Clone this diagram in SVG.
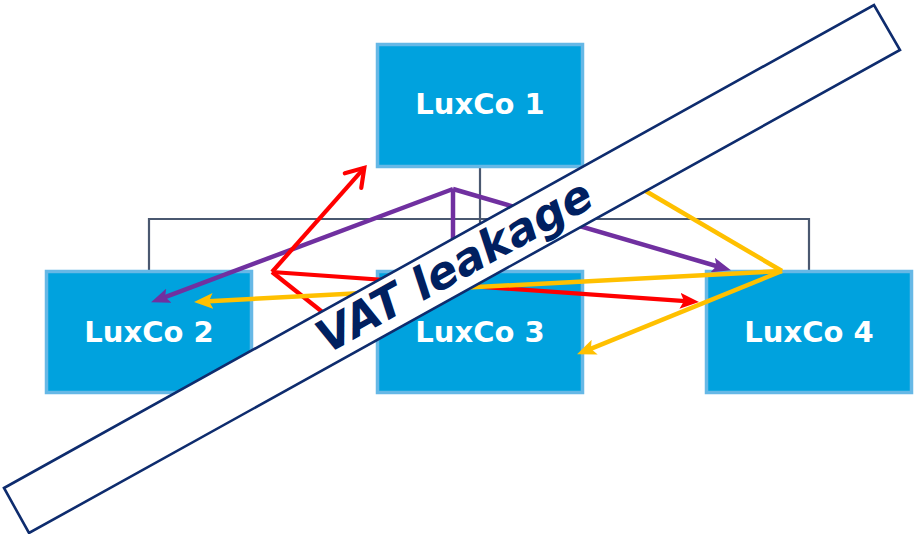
<svg xmlns="http://www.w3.org/2000/svg" width="916" height="534" viewBox="0 0 916 534">
  <style>
    .box { fill: #00A2DE; stroke: #66B8E6; stroke-width: 3.5; }
    .label { font-family: "DejaVu Sans", Verdana, sans-serif; font-weight: bold; font-size: 29px; fill: #FFFFFF; text-anchor: middle; }
    .org { fill: none; stroke: #4A5870; stroke-width: 2.2; }
    .purple { fill: none; stroke: #7030A0; stroke-width: 4.5; }
    .red { fill: none; stroke: #FF0000; stroke-width: 4.2; }
    .yellow { fill: none; stroke: #FFC000; stroke-width: 4.5; }
    .banner { fill: #FFFFFF; stroke: #0E2C6E; stroke-width: 2.6; stroke-linejoin: miter; }
    .banner-text { font-family: "DejaVu Sans", Verdana, sans-serif; font-weight: bold; font-style: italic; font-size: 45px; fill: #002060; text-anchor: middle; }
  </style>
  <defs>
    <marker id="headPurple" markerUnits="userSpaceOnUse" viewBox="0 0 19 15" markerWidth="19" markerHeight="15" refX="9" refY="7.5" orient="auto">
      <path d="M0,0 L19,7.5 L0,15 L4,7.5 z" fill="#7030A0"/>
    </marker>
    <marker id="headYellow" markerUnits="userSpaceOnUse" viewBox="0 0 19 16" markerWidth="19" markerHeight="16" refX="9" refY="8" orient="auto">
      <path d="M0,0 L19,8 L0,16 L4,8 z" fill="#FFC000"/>
    </marker>
    <marker id="headRed" markerUnits="userSpaceOnUse" viewBox="0 0 19 16" markerWidth="19" markerHeight="16" refX="9" refY="8" orient="auto">
      <path d="M0,0 L19,8 L0,16 L4,8 z" fill="#FF0000"/>
    </marker>
    <marker id="openRed" markerUnits="userSpaceOnUse" viewBox="0 0 22 26" markerWidth="22" markerHeight="26" refX="19" refY="13" orient="auto" overflow="visible">
      <path d="M2,2 L19,13 L2,24" fill="none" stroke="#FF0000" stroke-width="4.2" stroke-linecap="round" stroke-linejoin="miter"/>
    </marker>
  </defs>

  <!-- org chart links -->
  <g id="org-links">
    <path class="org" d="M480,168 V270"/>
    <path class="org" d="M149,270 V219 H809 V270"/>
  </g>

  <!-- entities -->
  <g id="luxco1">
    <rect class="box" x="377.5" y="44.5" width="205" height="122"/>
    <text class="label" x="480" y="114">LuxCo 1</text>
  </g>
  <g id="luxco2">
    <rect class="box" x="46.5" y="271.5" width="205" height="121"/>
    <text class="label" x="149" y="342">LuxCo 2</text>
  </g>
  <g id="luxco3">
    <rect class="box" x="377.5" y="271.5" width="205" height="121"/>
    <text class="label" x="480" y="342">LuxCo 3</text>
  </g>
  <g id="luxco4">
    <rect class="box" x="706.5" y="271.5" width="205" height="121"/>
    <text class="label" x="809" y="342">LuxCo 4</text>
  </g>

  <!-- supply flows -->
  <g id="connectors">
    <!-- purple -->
    <path class="purple" d="M453,189 L160.4,298.8" marker-end="url(#headPurple)"/>
    <path class="purple" d="M453,189 V262"/>
    <path class="purple" d="M453,189 L721.4,267.5" marker-end="url(#headPurple)"/>
    <!-- red -->
    <path class="red" d="M272,272 L364.3,167.8" marker-end="url(#openRed)"/>
    <path class="red" d="M272,272 L689,301.4" marker-end="url(#headRed)"/>
    <path class="red" d="M272,272 L345,330"/>
    <!-- yellow -->
    <path class="yellow" d="M782,271 L204,301.5" marker-end="url(#headYellow)"/>
    <path class="yellow" d="M782,271 L586.3,350.6" marker-end="url(#headYellow)"/>
    <path class="yellow" d="M782,271 L620,176"/>
  </g>

  <!-- diagonal banner -->
  <g id="banner">
    <polygon class="banner" points="4,488 874,5 900,50 29,533"/>
    <g transform="translate(455,267.3) rotate(-29.04)">
      <text class="banner-text" x="0" y="14">VAT leakage</text>
    </g>
  </g>
</svg>
